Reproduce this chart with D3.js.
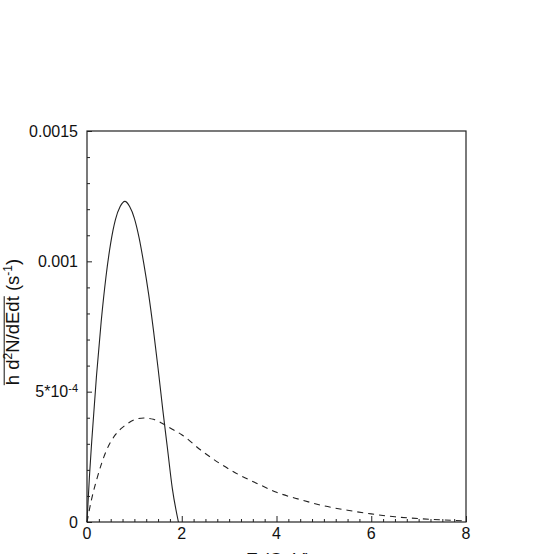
<!DOCTYPE html>
<html>
<head>
<meta charset="utf-8">
<script src="https://cdn.jsdelivr.net/npm/d3@7"></script>
<style>
  html, body { margin: 0; padding: 0; background: #fff; }
  svg { display: block; }
  text { font-family: "Liberation Sans", Arial, sans-serif; fill: #111; }
</style>
</head>
<body>
<div id="chart"></div>
<script>
// energy grid and spectra
const solidE = [0, 0.05, 0.1, 0.2, 0.3, 0.4, 0.5, 0.6, 0.7, 0.8, 0.9, 1.0, 1.1, 1.2, 1.3, 1.4, 1.5, 1.6, 1.7, 1.8, 1.93];
const solidV = [0, 0.00017, 0.00031, 0.00056, 0.00077, 0.00094, 0.00107, 0.00116, 0.00121, 0.00123, 0.00121, 0.001165,
                0.00109, 0.00099, 0.000875, 0.00074, 0.00059, 0.00043, 0.00028, 0.00013, 0];

const dashE = [0, 0.1, 0.2, 0.4, 0.6, 0.8, 1.0, 1.2, 1.4, 1.6, 1.8, 2.0, 2.4, 2.8, 3.2, 3.6, 4.0, 4.5, 5.0, 5.5, 6.0, 6.5, 7.0, 7.5, 8.0];
const dashV = [0, 0.00009, 0.00016, 0.00027, 0.000335, 0.00037, 0.000392, 0.000399, 0.000394, 0.000377, 0.000356,
               0.000335, 0.000276, 0.000225, 0.000182, 0.000147, 0.000114, 0.000086, 0.000062, 0.000045, 0.000031,
               0.00002, 0.000013, 0.000008, 0.000004];

const xMajor = [0, 2, 4, 6, 8];
const yMajor = [0, 0.0005, 0.001, 0.0015];
const yLabels = ["0", "5*10", "0.001", "0.0015"];

const W = 554, H = 554;
const plot = { left: 87, right: 466, top: 131, bottom: 522 };

const svg = d3.select("#chart").append("svg")
    .attr("width", W)
    .attr("height", H);

const x = d3.scaleLinear().domain([0, 8]).range([plot.left, plot.right]);
const y = d3.scaleLinear().domain([0, 0.0015]).range([plot.bottom, plot.top]);

// ticks (pointing inwards)
const xMinor = d3.range(0, 8.001, 0.25).filter(v => xMajor.indexOf(v) < 0);
const yMinor = d3.range(0, 0.00150001, 0.0001).filter(v => !yMajor.some(m => Math.abs(m - v) < 1e-9));

const gx = svg.append("g").attr("transform", `translate(0,${plot.bottom})`);
gx.call(d3.axisBottom(x).tickValues(xMajor).tickSize(-6).tickFormat(""));
gx.append("g").call(d3.axisBottom(x).tickValues(xMinor).tickSize(-3).tickFormat(""));
gx.selectAll(".domain").remove();

const gy = svg.append("g").attr("transform", `translate(${plot.left},0)`);
gy.call(d3.axisLeft(y).tickValues(yMajor).tickSize(-5).tickFormat(""));
gy.append("g").call(d3.axisLeft(y).tickValues(yMinor).tickSize(-3).tickFormat(""));
gy.selectAll(".domain").remove();
svg.selectAll(".tick line").attr("stroke", "#222").attr("stroke-width", 1);

// frame
svg.append("rect")
    .attr("x", plot.left).attr("y", plot.top)
    .attr("width", plot.right - plot.left).attr("height", plot.bottom - plot.top)
    .attr("fill", "none").attr("stroke", "#222").attr("stroke-width", 1.2);

// x tick labels
svg.selectAll("text.xl").data(xMajor).enter().append("text")
    .attr("class", "xl")
    .attr("x", d => x(d))
    .attr("y", plot.bottom + 5)
    .attr("dy", "0.72em")
    .attr("text-anchor", "middle")
    .style("font-size", "16px")
    .text(d => d);

// y tick labels
const yl = svg.selectAll("text.yl").data(yMajor).enter().append("text")
    .attr("class", "yl")
    .attr("x", plot.left - 9)
    .attr("y", d => y(d))
    .attr("dy", "0.36em")
    .attr("text-anchor", "end")
    .style("font-size", "16px");
yl.append("tspan").text((d, i) => yLabels[i]);
yl.filter(d => d === 0.0005).append("tspan")
    .attr("dy", "-0.45em")
    .style("font-size", "11px")
    .text("-4");

// curves
const line = d3.line().x(d => x(d[0])).y(d => y(d[1])).curve(d3.curveMonotoneX);

svg.append("path")
    .datum(solidE.map((e, i) => [e, solidV[i]]))
    .attr("d", line)
    .attr("fill", "none")
    .attr("stroke", "#222")
    .attr("stroke-width", 1.1);

svg.append("path")
    .datum(dashE.map((e, i) => [e, dashV[i]]))
    .attr("d", line)
    .attr("fill", "none")
    .attr("stroke", "#222")
    .attr("stroke-width", 1.1)
    .attr("stroke-dasharray", "6,5");

// y axis title, overline over "h d2N/dEdt"
const fs = 18.5;
const ty = svg.append("g").attr("transform", "translate(19,322) rotate(-90)");
const title = ty.append("text").style("font-size", fs + "px");
title.append("tspan").text("h d");
title.append("tspan").attr("dy", -0.4 * fs).style("font-size", "12px").text("2");
title.append("tspan").attr("dy", 0.4 * fs).text("N/dEdt (s");
title.append("tspan").attr("dy", -0.4 * fs).style("font-size", "12px").text("-1");
title.append("tspan").attr("dy", 0.4 * fs).text(")");
const total = title.node().getComputedTextLength();
title.attr("x", -total / 2);
// measure up to "t"
const tmp = ty.append("text").style("font-size", fs + "px");
tmp.append("tspan").text("h d");
tmp.append("tspan").style("font-size", "12px").text("2");
tmp.append("tspan").text("N/dEdt");
const barLen = tmp.node().getComputedTextLength();
tmp.remove();
ty.append("line")
    .attr("x1", -total / 2).attr("x2", -total / 2 + barLen)
    .attr("y1", -fs * 0.8).attr("y2", -fs * 0.8)
    .attr("stroke", "#111").attr("stroke-width", 1);

// x axis title, mostly outside the window as in the original
svg.append("text")
    .attr("x", 246)
    .attr("y", 566)
    .style("font-size", "18px")
    .text("E (GeV)");
</script>
</body>
</html>
